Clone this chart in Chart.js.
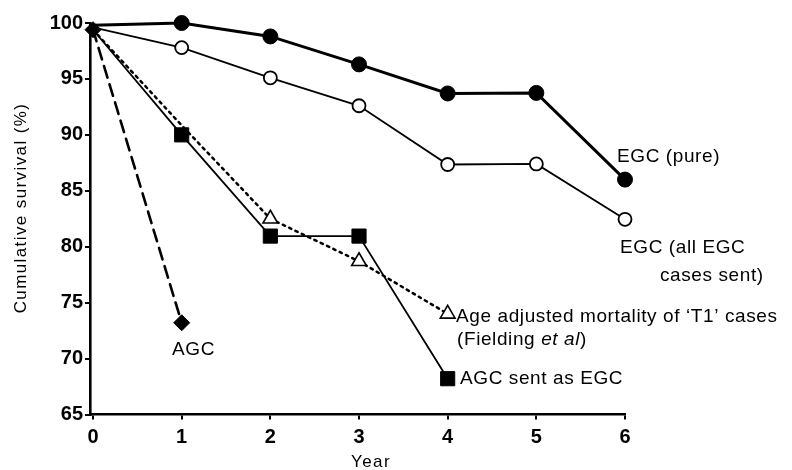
<!DOCTYPE html>
<html><head><meta charset="utf-8">
<script src="https://cdn.jsdelivr.net/npm/chart.js@4"></script>
<style>html,body{margin:0;padding:0;background:#fff}#wrap{width:792px;height:470px;position:relative}</style>
</head><body><div id="wrap"><canvas id="c" width="792" height="470"></canvas></div>
<script>
// ---- data ----
const years = [0, 1, 2, 3, 4, 5, 6];
const egcPure = [99.8, 100.0, 98.8, 96.3, 93.7, 93.75, 86.0];
const egcAll = [99.6, 97.8, 95.1, 92.6, 87.35, 87.4, 82.45];
const agcSentAsEgc = [99.4, 90.0, 80.95, 80.95, 68.2];
const ageAdjusted = [99.4, 90.85, 82.5, 78.7, 74.0];
const agc = [99.4, 73.2];
const xTicks = [0, 1, 2, 3, 4, 5, 6];
const yTicks = [65, 70, 75, 80, 85, 90, 95, 100];

const pts = arr => arr.map((v, i) => ({x: years[i], y: v}));
const FONT = '"Liberation Sans", Arial, Helvetica, sans-serif';

// text annotations (layout only)
const notes = [
  {parts: [{t: 'EGC (pure)'}], x: 617, y: 157},
  {parts: [{t: 'EGC (all EGC'}], x: 620, y: 248},
  {parts: [{t: 'cases sent)'}], x: 660, y: 276},
  {parts: [{t: 'Age adjusted mortality of \u2018T1\u2019 cases'}], x: 456, y: 317},
  {parts: [{t: '(Fielding '}, {t: 'et al', it: true}, {t: ')'}], x: 457, y: 340},
  {parts: [{t: 'AGC sent as EGC'}], x: 460, y: 379},
  {parts: [{t: 'AGC'}], x: 172, y: 350},
];

const textPlugin = {
  id: 'texts',
  afterDraw(chart) {
    const ctx = chart.ctx;
    ctx.save();
    ctx.fillStyle = '#000';
    ctx.textBaseline = 'middle';
    ctx.textAlign = 'left';
    try { ctx.letterSpacing = '0.6px'; } catch (e) {}
    for (const n of notes) {
      let x = n.x;
      for (const p of n.parts) {
        ctx.font = (p.it ? 'italic ' : '') + '19px ' + FONT;
        ctx.fillText(p.t, x, n.y);
        x += ctx.measureText(p.t).width;
      }
    }
    // axis titles
    ctx.font = '17px ' + FONT;
    try { ctx.letterSpacing = '1.4px'; } catch (e) {}
    ctx.textAlign = 'center';
    ctx.fillText('Year', 371, 462);
    ctx.save();
    ctx.translate(21, 208);
    ctx.rotate(-Math.PI / 2);
    ctx.fillText('Cumulative survival (%)', 0, 0);
    ctx.restore();
    ctx.restore();
  }
};

const base = {clip: false, borderColor: '#000', pointBorderColor: '#000', fill: false, tension: 0};

new Chart(document.getElementById('c'), {
  type: 'line',
  data: {
    datasets: [
      Object.assign({}, base, {
        label: 'EGC (pure)', data: pts(egcPure), borderWidth: 3,
        pointStyle: 'circle', pointRadius: egcPure.map((v, i) => i === 0 ? 0 : 7.5),
        pointBackgroundColor: '#000', pointBorderWidth: 1
      }),
      Object.assign({}, base, {
        label: 'EGC (all EGC cases sent)', data: pts(egcAll), borderWidth: 1.8,
        pointStyle: 'circle', pointRadius: egcAll.map((v, i) => i === 0 ? 0 : 6.5),
        pointBackgroundColor: '#fff', pointBorderWidth: 1.8
      }),
      Object.assign({}, base, {
        label: 'AGC sent as EGC', data: pts(agcSentAsEgc), borderWidth: 1.8,
        pointStyle: 'rect', pointRadius: agcSentAsEgc.map((v, i) => i === 0 ? 0 : 10),
        pointBackgroundColor: '#000', pointBorderWidth: 1
      }),
      Object.assign({}, base, {
        label: "Age adjusted mortality of 'T1' cases", data: pts(ageAdjusted), borderWidth: 2.5,
        borderDash: [2.5, 4.5],
        pointStyle: 'triangle', pointRadius: ageAdjusted.map((v, i) => i < 2 ? 0 : 8.5),
        pointBackgroundColor: '#fff', pointBorderWidth: 1.6
      }),
      Object.assign({}, base, {
        label: 'AGC', data: pts(agc), borderWidth: 2.6, borderDash: [12, 7],
        pointStyle: 'rectRot', pointRadius: 8,
        pointBackgroundColor: '#000', pointBorderWidth: 1
      }),
    ]
  },
  options: {
    responsive: false,
    animation: false,
    devicePixelRatio: 1,
    layout: {padding: {left: 0, right: 167, top: 23, bottom: 0}},
    plugins: {legend: {display: false}, tooltip: {enabled: false}},
    elements: {line: {borderCapStyle: 'round'}},
    scales: {
      x: {
        type: 'linear', min: -0.034, max: 6,
        afterBuildTicks: s => { s.ticks = xTicks.map(v => ({value: v})); },
        afterFit: s => { s.height = 55.5; },
        border: {display: true, color: '#000', width: 2.6},
        grid: {display: true, drawOnChartArea: false, drawTicks: true, tickLength: 5, color: '#000', lineWidth: 2},
        ticks: {color: '#000', padding: 6, maxRotation: 0, font: {family: FONT, size: 20, weight: 'bold'}}
      },
      y: {
        type: 'linear', min: 65, max: 100,
        afterBuildTicks: s => { s.ticks = yTicks.map(v => ({value: v})); },
        afterFit: s => { s.width = 90; },
        border: {display: true, color: '#000', width: 2.6},
        grid: {display: true, drawOnChartArea: false, drawTicks: true, tickLength: 5, color: '#000', lineWidth: 2},
        ticks: {color: '#000', padding: 2, font: {family: FONT, size: 20, weight: 'bold'}}
      }
    }
  },
  plugins: [textPlugin]
});
</script>
</body></html>
